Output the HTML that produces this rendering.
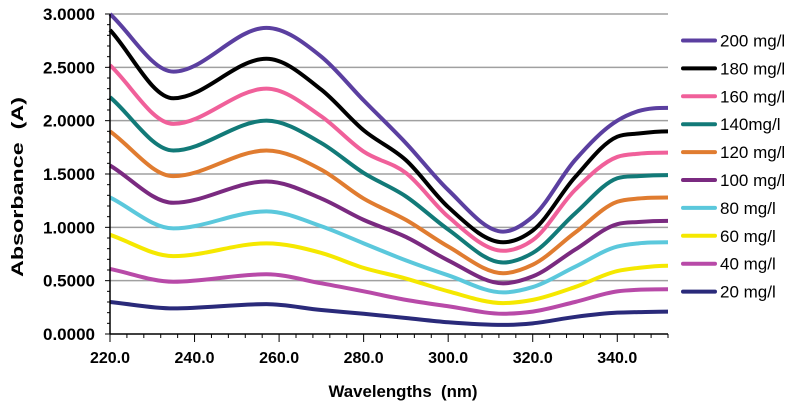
<!DOCTYPE html>
<html><head><meta charset="utf-8"><style>
html,body{margin:0;padding:0;background:#fff;}
svg text{font-family:"Liberation Sans",Arial,sans-serif;}
</style></head><body>
<svg id="chart" width="800" height="406" viewBox="0 0 800 406">
<g id="grid"></g>
<g id="series"></g>
<g id="axes"></g>
<g id="legend"></g>
<text x="403" y="397" text-anchor="middle" font-size="17" font-weight="bold" textLength="149" lengthAdjust="spacingAndGlyphs">Wavelengths&#160;&#160;(nm)</text>
<text transform="translate(23,187) rotate(-90)" text-anchor="middle" font-size="17" font-weight="bold" textLength="180" lengthAdjust="spacingAndGlyphs">Absorbance&#160;&#160;(A)</text>
</svg>
<script>
const wavelengths = [220,235,257,270,280,290,300,313,320,330,340,345,352];
const seriesNames = ["200 mg/l","180 mg/l","160 mg/l","140mg/l","120 mg/l","100 mg/l","80 mg/l","60 mg/l","40 mg/l","20 mg/l"];
const s200 = [3.00,2.46,2.87,2.60,2.19,1.79,1.35,0.96,1.10,1.63,2.00,2.09,2.12];
const s180 = [2.85,2.21,2.58,2.29,1.91,1.63,1.19,0.86,0.97,1.47,1.85,1.88,1.90];
const s160 = [2.52,1.97,2.30,2.04,1.71,1.51,1.10,0.78,0.88,1.35,1.66,1.69,1.70];
const s140 = [2.22,1.72,2.00,1.79,1.51,1.29,0.98,0.67,0.76,1.13,1.46,1.48,1.49];
const s120 = [1.90,1.48,1.72,1.54,1.27,1.07,0.82,0.57,0.65,0.95,1.24,1.27,1.28];
const s100 = [1.58,1.23,1.43,1.27,1.07,0.91,0.69,0.475,0.54,0.79,1.03,1.05,1.06];
const s80  = [1.28,0.99,1.15,1.01,0.85,0.69,0.55,0.39,0.44,0.63,0.82,0.85,0.86];
const s60  = [0.93,0.73,0.85,0.76,0.62,0.52,0.40,0.29,0.32,0.44,0.59,0.62,0.64];
const s40  = [0.61,0.49,0.56,0.475,0.40,0.32,0.26,0.19,0.21,0.30,0.40,0.415,0.42];
const s20  = [0.30,0.24,0.28,0.225,0.19,0.15,0.11,0.085,0.10,0.16,0.20,0.205,0.21];
const yTicks = ["0.0000","0.5000","1.0000","1.5000","2.0000","2.5000","3.0000"];
const xTicks = ["220.0","240.0","260.0","280.0","300.0","320.0","340.0"];
const allSeries=[s200,s180,s160,s140,s120,s100,s80,s60,s40,s20];
const colors=["#5b3fa0","#000000","#f0609a","#127a78","#e07c30","#7a2a80","#5bc8dc","#f5e800","#b84aa8","#2a2a7a"];
const X0=110,X1=668,Y0=334,Y1=14;
const xs=v=>X0+(v-220)*(X1-X0)/(352-220);
const ys=v=>Y0-v*(Y0-Y1)/3;
const NS="http://www.w3.org/2000/svg";
function mk(t,a,p){const e=document.createElementNS(NS,t);for(const k in a)e.setAttribute(k,a[k]);p.appendChild(e);return e;}
const g=document.getElementById('grid');
for(let i=1;i<yTicks.length;i++){const y=ys(parseFloat(yTicks[i]));
const l=mk('line',{x1:X0,x2:X1,y1:y,y2:y,stroke:'#a0a0a0','stroke-width':1.5},g);

}
function pathFor(xa,ya){const n=xa.length,d=[],m=[];
for(let i=0;i<n-1;i++)d.push((ya[i+1]-ya[i])/(xa[i+1]-xa[i]));
m[0]=d[0];m[n-1]=0;
for(let i=1;i<n-1;i++){
 if(d[i-1]*d[i]<=0){m[i]=0;continue;}
 const h0=xa[i]-xa[i-1],h1=xa[i+1]-xa[i];
 m[i]=(d[i-1]*h1+d[i]*h0)/(h0+h1);}
let p='M'+xa[0]+','+ya[0];
for(let i=0;i<n-1;i++){const h=(xa[i+1]-xa[i])/3;p+=' C'+(xa[i]+h)+','+(ya[i]+m[i]*h)+' '+(xa[i+1]-h)+','+(ya[i+1]-m[i+1]*h)+' '+xa[i+1]+','+ya[i+1];}
return p;}
const sg=document.getElementById('series');
allSeries.slice().reverse().forEach((s,ri)=>{const i=allSeries.length-1-ri;
const px=wavelengths.map(xs),py=s.map(ys);
const p=mk('path',{d:pathFor(px,py),fill:'none',stroke:colors[i],'stroke-width':4,'stroke-linejoin':'round'},sg);

});
const ax=document.getElementById('axes');
mk('line',{x1:X0,x2:X0,y1:Y1,y2:Y0,stroke:'#000','stroke-width':1.5},ax);
mk('line',{x1:X0,x2:X1,y1:Y0,y2:Y0,stroke:'#000','stroke-width':1.5},ax);
for(let v=0;v<=3.0001;v+=0.1){const y=ys(v);mk('line',{x1:X0-((Math.round(v*10)%5==0)?5:3),x2:X0,y1:y,y2:y,stroke:'#000','stroke-width':1},ax);}
for(let w=220;w<=352;w+=4){const x=xs(w);mk('line',{x1:x,x2:x,y1:Y0,y2:Y0+((w-220)%20==0?8:4),stroke:'#000','stroke-width':1},ax);}
yTicks.forEach(t=>{const e=mk('text',{x:95,y:ys(parseFloat(t))+6,'text-anchor':'end','font-size':17,'font-weight':'bold'},ax);e.textContent=t;

});
xTicks.forEach(t=>{const e=mk('text',{x:xs(parseFloat(t)),y:363,'text-anchor':'middle','font-size':16,'font-weight':'bold'},ax);e.textContent=t;

});
const lg=document.getElementById('legend');
seriesNames.forEach((n,i)=>{const y=40.5+i*27.9;
const it=mk('g',{},lg);


mk('line',{x1:683,x2:715,y1:y,y2:y,stroke:colors[i],'stroke-width':4,'stroke-linecap':'round'},it);
const t=mk('text',{x:720,y:y+6,'font-size':17},it);t.textContent=n;});
</script>
</body></html>
